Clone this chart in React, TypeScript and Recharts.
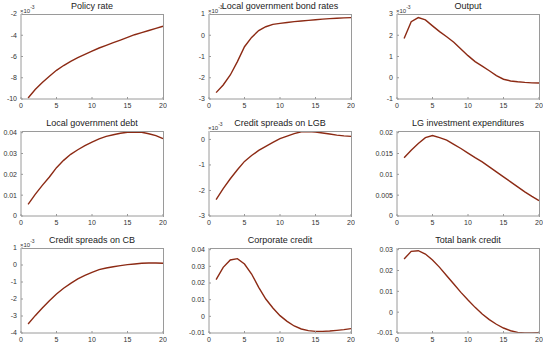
import { LineChart, Line, XAxis, YAxis } from 'recharts'

const periods = [1, 2, 3, 4, 5, 6, 7, 8, 9, 10, 11, 12, 13, 14, 15, 16, 17, 18, 19, 20]

// values in ×10^-3 where the panel shows an exponent
const policyRate = [-9.9, -9.1, -8.45, -7.85, -7.3, -6.85, -6.45, -6.1, -5.8, -5.5, -5.2, -4.95, -4.7, -4.45, -4.2, -3.95, -3.75, -3.55, -3.35, -3.15]
const lgBondRates = [-2.7, -2.34, -1.87, -1.24, -0.54, -0.1, 0.22, 0.4, 0.51, 0.56, 0.6, 0.64, 0.67, 0.7, 0.73, 0.76, 0.78, 0.8, 0.82, 0.83]
const output = [1.85, 2.64, 2.83, 2.72, 2.44, 2.17, 1.93, 1.67, 1.35, 1.04, 0.76, 0.55, 0.33, 0.1, -0.07, -0.15, -0.19, -0.22, -0.24, -0.25]
const lgDebt = [0.0056, 0.0104, 0.0147, 0.0187, 0.0232, 0.0267, 0.0296, 0.0318, 0.0338, 0.0355, 0.037, 0.0382, 0.039, 0.0397, 0.0402, 0.0403, 0.0402, 0.0395, 0.0386, 0.0371]
const spreadsLGB = [-2.36, -1.93, -1.54, -1.19, -0.86, -0.63, -0.43, -0.27, -0.12, 0.03, 0.13, 0.23, 0.3, 0.31, 0.29, 0.25, 0.21, 0.17, 0.14, 0.12]
const lgInvestment = [0.014, 0.0158, 0.0174, 0.0188, 0.0193, 0.0188, 0.0182, 0.0172, 0.0162, 0.0151, 0.014, 0.013, 0.0118, 0.0106, 0.0094, 0.0082, 0.007, 0.0058, 0.0047, 0.0037]
const spreadsCB = [-3.47, -2.98, -2.53, -2.1, -1.71, -1.37, -1.08, -0.82, -0.61, -0.43, -0.27, -0.18, -0.1, -0.04, 0.02, 0.06, 0.1, 0.12, 0.12, 0.1]
const corporateCredit = [0.022, 0.0294, 0.0338, 0.0346, 0.0314, 0.0254, 0.0174, 0.0104, 0.005, 0.0004, -0.003, -0.0058, -0.0076, -0.0086, -0.009, -0.009, -0.0088, -0.0084, -0.008, -0.0074]
const totalBankCredit = [0.0255, 0.0292, 0.0295, 0.0279, 0.025, 0.0215, 0.0175, 0.0135, 0.0095, 0.0058, 0.0023, -0.0009, -0.0036, -0.0058, -0.0076, -0.0089, -0.0097, -0.01, -0.01, -0.0098]

const xTicks = [0, 5, 10, 15, 20]
const titles = [
  'Policy rate', 'Local government bond rates', 'Output',
  'Local government debt', 'Credit spreads on LGB', 'LG investment expenditures',
  'Credit spreads on CB', 'Corporate credit', 'Total bank credit',
]
const yTicks = [
  [-10, -8, -6, -4, -2], [-3, -2, -1, 0, 1], [-1, 0, 1, 2, 3],
  [0, 0.01, 0.02, 0.03, 0.04], [-3, -2, -1, 0], [0, 0.005, 0.01, 0.015, 0.02],
  [-4, -3, -2, -1, 0, 1], [-0.01, 0, 0.01, 0.02, 0.03, 0.04], [-0.01, 0, 0.01, 0.02, 0.03],
]
const series = [policyRate, lgBondRates, output, lgDebt, spreadsLGB, lgInvestment, spreadsCB, corporateCredit, totalBankCredit]
const domains: [number, number][] = [
  [-10, -2], [-3, 1], [-1, 3],
  [0, 0.0408], [-3, 0.33], [0, 0.0204],
  [-4, 1], [-0.01, 0.041], [-0.01, 0.0308],
]
const scaled = [true, true, true, false, true, false, true, false, false]

const FONT = '"Liberation Sans", Arial, sans-serif'
const AXIS = '#9a9a9a'
const TEXT = '#333'
const LINE = '#8c2a14'

const colLeft = [21, 209, 397]
const rowTop = [0, 117, 234]
const PW = 142
const PH = 85
const YW = 30

function Panel({ idx }: { idx: number }) {
  const left = colLeft[idx % 3]
  const top = rowTop[Math.floor(idx / 3)]
  const data = periods.map((p, i) => ({ t: p, v: series[idx][i] }))
  const tickStyle = { fontSize: 7, fill: TEXT, fontFamily: FONT }
  return (
    <>
      <div style={{ position: 'absolute', left: left - YW, top }}>
        <LineChart width={YW + PW + 4} height={117} data={data} margin={{ top: 14, right: 4, bottom: 0, left: 0 }}>
          <XAxis dataKey="t" type="number" domain={[0, 20]} ticks={xTicks} height={18}
            stroke={AXIS} tick={tickStyle} tickSize={-2} tickMargin={6} />
          <YAxis type="number" domain={domains[idx]} ticks={yTicks[idx]} width={YW}
            allowDataOverflow stroke={AXIS} tick={tickStyle} tickSize={-2} tickMargin={6} />
          <Line dataKey="v" type="linear" stroke={LINE} strokeWidth={1.4} dot={false} isAnimationActive={false} />
        </LineChart>
      </div>
      {/* top and right edges of the axes box */}
      <div style={{ position: 'absolute', left: left + 0.5, top: top + 14 - 0.5, width: PW - 1, height: PH,
        borderTop: `1px solid ${AXIS}`, borderRight: `1px solid ${AXIS}`, pointerEvents: 'none' }} />
      <div style={{ position: 'absolute', left, width: PW, top: top + 2, textAlign: 'center',
        fontFamily: FONT, fontSize: 9, lineHeight: '9px', color: '#222', whiteSpace: 'nowrap' }}>
        {titles[idx]}
      </div>
      {scaled[idx] && (
        <div style={{ position: 'absolute', left: left - 1, top: top + 5, fontFamily: FONT, fontSize: 6,
          lineHeight: '6px', color: TEXT, whiteSpace: 'nowrap' }}>
          ×10<sup style={{ fontSize: 5, position: 'relative', top: -1 }}>-3</sup>
        </div>
      )}
    </>
  )
}

export default function App() {
  return (
    <div style={{ position: 'absolute', left: 0, top: 0, width: 550, height: 351, background: '#fff' }}>
      {titles.map((_, i) => (
        <Panel key={i} idx={i} />
      ))}
    </div>
  )
}
